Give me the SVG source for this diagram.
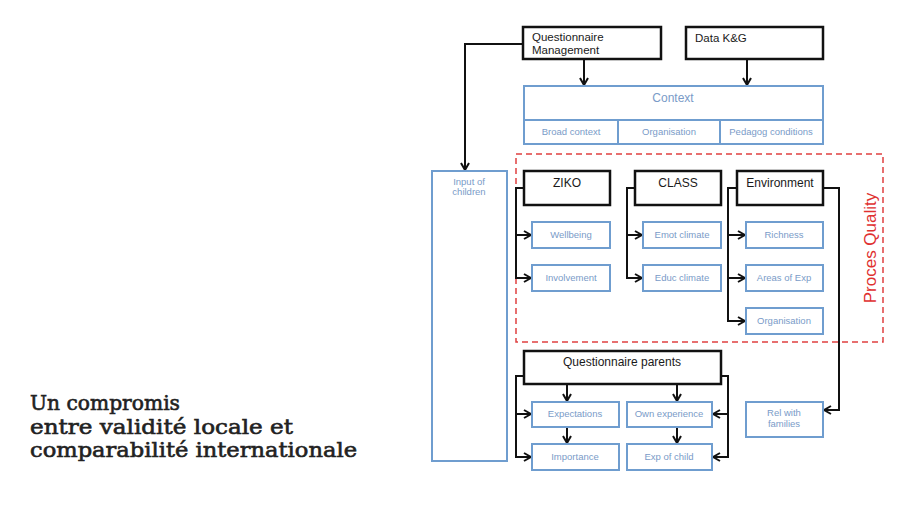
<svg xmlns="http://www.w3.org/2000/svg" width="910" height="512" viewBox="0 0 910 512">
<style>
.bk{fill:#fff;stroke:#111;stroke-width:2.5}
.bl{fill:#fff;stroke:#6f9dcf;stroke-width:2}
.tb{font-family:"Liberation Sans",Arial,sans-serif;font-size:11.5px;fill:#1a1a1a}
.tc{font-family:"Liberation Sans",Arial,sans-serif;font-size:12px;fill:#1a1a1a;text-anchor:middle}
.tl{font-family:"Liberation Sans",Arial,sans-serif;font-size:9.5px;fill:#7a9bc8;text-anchor:middle}
.c{fill:none;stroke:#111;stroke-width:2}
.title{font-family:"DejaVu Serif",serif;font-size:20.5px;fill:#222;stroke:#222;stroke-width:0.6}
</style>
<defs>
<marker id="a" viewBox="0 0 10 10" refX="9" refY="5" markerWidth="10" markerHeight="10" markerUnits="userSpaceOnUse" orient="auto">
<polyline points="2,1 9,5 2,9" fill="none" stroke="#111" stroke-width="2"/>
</marker>
</defs>
<rect width="910" height="512" fill="#fff"/>
<g id="title">
<text class="title" x="30" y="410" textLength="150" lengthAdjust="spacingAndGlyphs">Un compromis</text>
<text class="title" x="30" y="434" textLength="263" lengthAdjust="spacingAndGlyphs">entre validité locale et</text>
<text class="title" x="30" y="457" textLength="327" lengthAdjust="spacingAndGlyphs">comparabilité internationale</text>
</g>
<g id="proces-quality">
<rect x="516" y="154" width="367" height="188" fill="none" stroke="#e04040" stroke-width="1.5" stroke-dasharray="6,4"/>
<text transform="translate(876,248) rotate(-90)" text-anchor="middle" font-family="Liberation Sans,Arial,sans-serif" font-size="17" fill="#e03030">Proces Quality</text>
</g>
<g id="connectors">
<polyline class="c" points="523,44 465,44 465,170" marker-end="url(#a)"/>
<line class="c" x1="584" y1="59" x2="584" y2="85" marker-end="url(#a)"/>
<line class="c" x1="747" y1="59" x2="747" y2="85" marker-end="url(#a)"/>
<polyline class="c" points="524,188 516,188 516,278 531,278" marker-end="url(#a)"/>
<line class="c" x1="516" y1="235" x2="531" y2="235" marker-end="url(#a)"/>
<polyline class="c" points="635,188 627,188 627,278 642,278" marker-end="url(#a)"/>
<line class="c" x1="627" y1="235" x2="642" y2="235" marker-end="url(#a)"/>
<polyline class="c" points="737,188 728,188 728,321 745,321" marker-end="url(#a)"/>
<line class="c" x1="728" y1="235" x2="745" y2="235" marker-end="url(#a)"/>
<line class="c" x1="728" y1="278" x2="745" y2="278" marker-end="url(#a)"/>
<polyline class="c" points="823,188 839,188 839,410 824,410" marker-end="url(#a)"/>
<polyline class="c" points="524,376 516,376 516,457 531,457" marker-end="url(#a)"/>
<line class="c" x1="516" y1="414" x2="531" y2="414" marker-end="url(#a)"/>
<polyline class="c" points="721,376 728,376 728,457 713,457" marker-end="url(#a)"/>
<line class="c" x1="728" y1="414" x2="713" y2="414" marker-end="url(#a)"/>
<line class="c" x1="567" y1="384" x2="567" y2="401" marker-end="url(#a)"/>
<line class="c" x1="677" y1="384" x2="677" y2="401" marker-end="url(#a)"/>
<line class="c" x1="567" y1="427" x2="567" y2="443" marker-end="url(#a)"/>
<line class="c" x1="677" y1="427" x2="677" y2="443" marker-end="url(#a)"/>
</g>
<g id="questionnaire-management">
<rect class="bk" x="523" y="27" width="138" height="32"/>
<text class="tb" x="532" y="41">Questionnaire</text>
<text class="tb" x="532" y="54">Management</text>
</g>
<g id="data-kg">
<rect class="bk" x="686" y="27" width="137" height="32"/>
<text class="tb" x="695" y="42">Data K&amp;G</text>
</g>
<g id="context">
<rect class="bl" x="524" y="86" width="299" height="58"/>
<line x1="524" y1="120" x2="823" y2="120" stroke="#6f9dcf" stroke-width="2"/>
<line x1="618" y1="120" x2="618" y2="144" stroke="#6f9dcf" stroke-width="2"/>
<line x1="720" y1="120" x2="720" y2="144" stroke="#6f9dcf" stroke-width="2"/>
<text class="tl" x="673" y="102" style="font-size:12px">Context</text>
<text class="tl" x="571" y="135">Broad context</text>
<text class="tl" x="669" y="135">Organisation</text>
<text class="tl" x="771" y="135">Pedagog conditions</text>
</g>
<g id="input-children">
<rect class="bl" x="432" y="171" width="75" height="290"/>
<text class="tl" x="469" y="185">Input of</text>
<text class="tl" x="469" y="195">children</text>
</g>
<g id="ziko">
<rect class="bk" x="524" y="171" width="86" height="34"/>
<text class="tc" x="567" y="187">ZIKO</text>
</g>
<g id="class">
<rect class="bk" x="635" y="171" width="86" height="34"/>
<text class="tc" x="678" y="187">CLASS</text>
</g>
<g id="environment">
<rect class="bk" x="737" y="171" width="86" height="34"/>
<text class="tc" x="780" y="187">Environment</text>
</g>
<g id="wellbeing"><rect class="bl" x="532" y="222" width="78" height="26"/><text class="tl" x="571" y="238">Wellbeing</text></g>
<g id="involvement"><rect class="bl" x="532" y="265" width="78" height="26"/><text class="tl" x="571" y="281">Involvement</text></g>
<g id="emot-climate"><rect class="bl" x="643" y="222" width="78" height="26"/><text class="tl" x="682" y="238">Emot climate</text></g>
<g id="educ-climate"><rect class="bl" x="643" y="265" width="78" height="26"/><text class="tl" x="682" y="281">Educ climate</text></g>
<g id="richness"><rect class="bl" x="746" y="222" width="77" height="26"/><text class="tl" x="784" y="238">Richness</text></g>
<g id="areas-of-exp"><rect class="bl" x="746" y="265" width="77" height="26"/><text class="tl" x="784" y="281">Areas of Exp</text></g>
<g id="organisation-env"><rect class="bl" x="746" y="308" width="77" height="26"/><text class="tl" x="784" y="324">Organisation</text></g>
<g id="questionnaire-parents">
<rect class="bk" x="524" y="351" width="197" height="33"/>
<text class="tc" x="622" y="366">Questionnaire parents</text>
</g>
<g id="expectations"><rect class="bl" x="532" y="402" width="87" height="25"/><text class="tl" x="575" y="417">Expectations</text></g>
<g id="own-experience"><rect class="bl" x="627" y="402" width="85" height="25"/><text class="tl" x="669" y="417">Own experience</text></g>
<g id="importance"><rect class="bl" x="532" y="444" width="87" height="26"/><text class="tl" x="575" y="460">Importance</text></g>
<g id="exp-of-child"><rect class="bl" x="627" y="444" width="85" height="26"/><text class="tl" x="669" y="460">Exp of child</text></g>
<g id="rel-families">
<rect class="bl" x="746" y="402" width="77" height="35"/>
<text class="tl" x="784" y="416">Rel with</text>
<text class="tl" x="784" y="427">families</text>
</g>
</svg>
